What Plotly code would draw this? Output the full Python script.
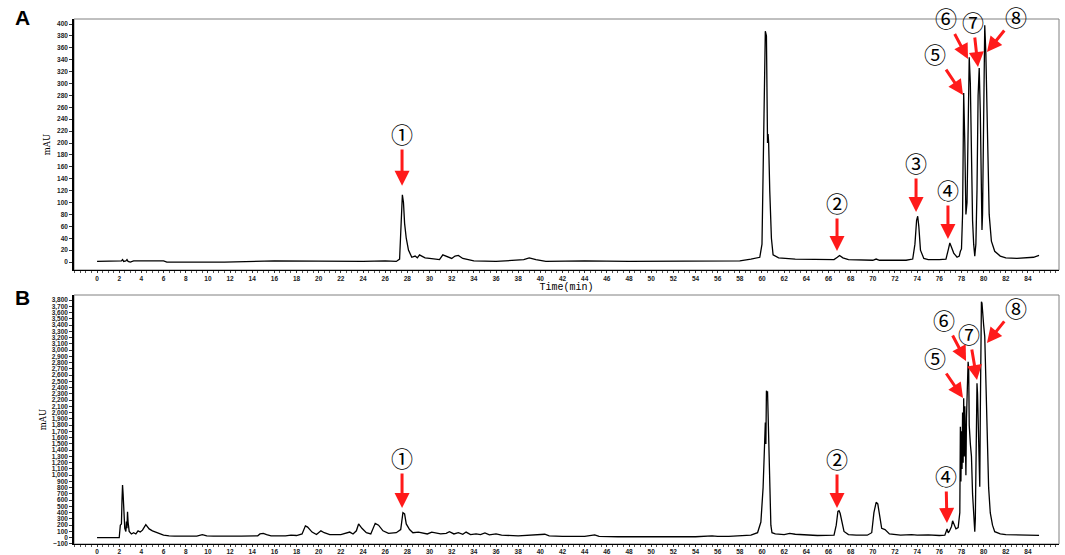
import plotly.graph_objects as go

# ---------------- Data ----------------
time_A = [0, 2.0, 2.2, 2.3, 2.4, 2.6, 2.7, 2.8, 3.0, 3.3, 6.0, 6.3, 11.5, 16.0, 20, 24, 26, 27.0,
          27.3, 27.45, 27.55, 27.65, 27.75, 27.9, 28.1, 28.4, 28.7, 28.9, 29.1, 29.3, 29.6, 30.0,
          30.5, 30.9, 31.2, 31.5, 32.0, 32.3, 32.6, 33.0, 33.4, 34.0, 36, 37.5, 38.5, 39.0, 39.6,
          40.5, 44, 48, 52, 56, 58.0, 59.0, 59.8, 60.0, 60.1, 60.2, 60.3, 60.4, 60.45, 60.5, 60.55,
          60.6, 60.7, 60.85, 61.0, 61.5, 63, 65, 66.5, 66.8, 67.0, 67.3, 67.8, 70, 70.3, 70.6, 73,
          73.6, 73.8, 73.95, 74.05, 74.15, 74.3, 74.6, 75, 76, 76.6, 76.8, 76.95, 77.1, 77.3, 77.6,
          77.8, 77.9, 78.0, 78.1, 78.2, 78.3, 78.4, 78.5, 78.6, 78.7, 78.8, 78.9, 79.0, 79.1, 79.2,
          79.3, 79.4, 79.5, 79.6, 79.7, 79.8, 79.85, 79.9, 80.0, 80.1, 80.2, 80.3, 80.4, 80.5, 80.7,
          81.0, 81.5, 82, 83, 84, 84.5, 85]
mau_A = [1, 1, 2, 4, 1, 2, 4, 1, 0, 2, 2, 0, 0, 2, 1, 1, 2, 1,
         5, 60, 113, 100, 65, 40, 20, 8, 10, 7, 12, 10, 7, 6,
         5, 4, 12, 10, 6, 10, 11, 6, 4, 2, 1, 3, 4, 7, 4,
         1, 2, 1, 1, 1, 2, 5, 8, 30, 150, 300, 388, 380, 260, 200, 215,
         200, 120, 40, 12, 7, 5, 4, 4, 8, 11, 7, 4, 3, 5, 3, 3,
         5, 30, 70, 77, 60, 20, 6, 4, 4, 5, 20, 32, 25, 15, 8,
         10, 18, 22, 80, 284, 200, 80, 100, 250, 344, 300, 150, 70, 30, 10,
         30, 120, 280, 326, 250, 80, 54, 80, 300, 398, 350, 250, 150, 80, 35,
         18, 10, 7, 6, 7, 8, 11]

time_B = [0, 2.0, 2.1, 2.2, 2.25, 2.3, 2.35, 2.4, 2.45, 2.5, 2.6, 2.65, 2.7, 2.75, 2.8, 2.9, 3.1,
          3.3, 3.5, 3.7, 3.9, 4.1, 4.4, 4.7, 5.0, 5.3, 5.6, 6.0, 6.5, 7.0, 9.0, 9.5, 9.9, 10.5, 13,
          14.5, 14.7, 15.0, 15.3, 15.7, 17, 17.5, 18.0, 18.5, 18.8, 19.0, 19.4, 19.8, 20.2, 20.5, 21,
          22, 22.8, 23.1, 23.4, 23.6, 23.9, 24.3, 24.7, 25.1, 25.4, 25.8, 26.3, 27.0, 27.4, 27.6,
          27.75, 27.9, 28.2, 28.5, 29, 29.4, 29.8, 30.2, 30.6, 31, 31.5, 31.8, 32.2, 32.6, 33.0, 33.3,
          33.7, 34.2, 34.6, 35, 35.4, 36, 36.5, 38, 40.4, 40.8, 42, 44, 44.9, 45.3, 47, 50, 54, 55.5,
          56, 57, 58, 59, 59.6, 59.9, 60.1, 60.2, 60.3, 60.35, 60.4, 60.45, 60.5, 60.55, 60.6, 60.7,
          60.8, 60.9, 61.2, 62.0, 62.5, 63, 64, 65, 66.5, 66.7, 66.85, 66.95, 67.05, 67.2, 67.4, 67.8,
          68.5, 69.5, 69.9, 70.1, 70.3, 70.45, 70.6, 70.8, 71.1, 71.5, 72.5, 73.5, 74, 75, 76, 76.5,
          76.7, 76.8, 76.9, 77.1, 77.2, 77.3, 77.5, 77.7, 77.85, 77.9, 77.95, 78.0, 78.05, 78.1,
          78.15, 78.2, 78.25, 78.3, 78.35, 78.4, 78.45, 78.5, 78.55, 78.6, 78.65, 78.7, 78.8, 78.9,
          79.0, 79.1, 79.2, 79.25, 79.3, 79.35, 79.4, 79.45, 79.5, 79.6, 79.65, 79.7, 79.75, 79.8,
          79.85, 79.9, 80.0, 80.1, 80.2, 80.3, 80.45, 80.6, 80.8, 81.0, 81.5, 82, 83, 84, 85]
mau_B = [0, 0, 200, 220, 600, 842, 700, 500, 250, 150, 100, 260, 150, 415, 250, 100, 60,
         80, 60, 110, 90, 120, 210, 140, 110, 90, 60, 40, 30, 25, 25, 50, 30, 25, 25,
         30, 60, 70, 50, 30, 30, 40, 35, 60, 190, 170, 90, 50, 110, 80, 50,
         50, 90, 60, 110, 220, 150, 80, 60, 230, 200, 110, 70, 80, 130, 400,
         380, 220, 130, 80, 90, 70, 60, 90, 80, 60, 70, 95, 60, 80, 55, 90,
         50, 60, 50, 75, 45, 60, 40, 30, 55, 30, 20, 20, 45, 20, 15, 15, 15, 30,
         20, 20, 25, 40, 80, 250, 800, 1350, 1840, 1500, 2350, 2300, 2340, 2000, 1400, 800,
         200, 80, 60, 50, 70, 55, 40, 35, 40, 200, 420, 432, 390, 250, 100, 50,
         40, 40, 80, 400, 566, 540, 380, 150, 130, 60, 40, 50, 40, 45, 35, 40,
         140, 80, 100, 180, 270, 220, 140, 160, 400, 1775, 900, 1700, 1100, 2000,
         1200, 2229, 1300, 2100, 1100, 1000, 1900, 2300, 2600, 2814, 2700, 1800, 1500, 1300,
         700, 300, 96, 300, 1500, 2300, 2468, 2300, 1800, 900, 815, 2000, 3500, 3773,
         3750, 3600, 3400, 3214, 2400, 1615, 800, 395, 200, 96, 60, 48, 45, 42, 38]

x_ticks = list(range(0, 85, 2))
peak_labels = ["①", "②", "③", "④", "⑤", "⑥", "⑦", "⑧"]
# arrow head (time, mAU) and label position (time, mAU) for panel A
headA_t = [27.52, 66.77, 73.90, 76.78, 78.14, 78.59, 79.49, 80.30]
headA_v = [128, 18.5, 84, 38.7, 280.7, 341, 327.7, 353]
textA_t = [27.52, 66.77, 73.90, 76.78, 75.61, 76.60, 79.04, 82.90]
textA_v = [216.8, 100.8, 168, 122.7, 351, 411, 405, 413]
# panel B (no peak 3)
labelsB = ["①", "②", "④", "⑤", "⑥", "⑦", "⑧"]
headB_t = [27.52, 66.77, 76.69, 78.14, 78.41, 79.40, 80.30]
headB_v = [475, 475, 235, 2233, 2825, 2521, 3113]
textB_t = [27.52, 66.77, 76.60, 75.61, 76.42, 78.68, 82.90]
textB_v = [1290, 1274, 1002, 2889, 3497, 3273, 3688]

# ---------------- Figure ----------------
W, H = 1065, 555


def px_x(p):
    return p / W


def px_y(p):
    return 1 - p / H


fig = go.Figure()
fig.add_trace(go.Scatter(x=time_A, y=mau_A, mode="lines", line=dict(color="black", width=1.3),
                         xaxis="x", yaxis="y", showlegend=False, hoverinfo="skip"))
fig.add_trace(go.Scatter(x=time_B, y=mau_B, mode="lines", line=dict(color="black", width=1.3),
                         xaxis="x2", yaxis="y2", showlegend=False, hoverinfo="skip"))

tickfont = dict(family="Liberation Sans", size=6.5, color="#222222", weight="bold")
xdomain = [px_x(74), px_x(1059)]
common_x = dict(domain=xdomain, range=[-2.08, 86.8], tickvals=x_ticks, showgrid=False,
                zeroline=False, showline=True, linecolor="black", linewidth=1,
                ticks="outside", ticklen=2, tickcolor="#333", tickfont=tickfont, automargin=False,
                minor=dict(dtick=0.5, tick0=0, ticks="outside", ticklen=2, tickcolor="#555"))
common_y = dict(showgrid=False, zeroline=False, showline=True, linecolor="black", automargin=False,
                linewidth=1.5, ticks="outside", ticklen=3, tickcolor="#333", tickfont=tickfont)

fig.update_layout(
    width=W, height=H, margin=dict(l=0, r=0, t=0, b=0, autoexpand=False),
    paper_bgcolor="white", plot_bgcolor="white", showlegend=False,
    xaxis=dict(**common_x, anchor="y",
               title=dict(text="Time(min)", font=dict(family="Liberation Mono", size=10, color="black"),
                          standoff=1)),
    yaxis=dict(**common_y, domain=[px_y(270), px_y(19)], range=[-13.4, 408.4], dtick=20,
               tick0=0, anchor="x",
               title=dict(text="mAU", font=dict(family="DejaVu Serif", size=8.5, color="black"),
                          standoff=5)),
    xaxis2=dict(**common_x, anchor="y2", ticklabelstandoff=-1),
    yaxis2=dict(**common_y, domain=[px_y(544), px_y(295)], range=[-100.7, 3880], dtick=100,
                tick0=0, tickformat=",d", anchor="x2",
                title=dict(text="mAU", font=dict(family="DejaVu Serif", size=8.5, color="black"),
                           standoff=4)),
)

# gray frame (top/right)
for xr, yr in (("x domain", "y domain"), ("x2 domain", "y2 domain")):
    fig.add_shape(type="rect", xref=xr, yref=yr, x0=0, x1=1, y0=0, y1=1,
                  line=dict(color="#808080", width=1), layer="below")

circ_font = dict(family="Noto Sans CJK SC", size=22, color="black")


def add_peaks(labels, ht, hv, tt, tv, xr, yr):
    for lab, a, b, c, d in zip(labels, ht, hv, tt, tv):
        fig.add_annotation(x=a, y=b, xref=xr, yref=yr, ax=c, ay=d, axref=xr, ayref=yr,
                           text=lab, font=circ_font, showarrow=True, arrowhead=2,
                           arrowsize=1.0, arrowwidth=3, arrowcolor="#ff1a1a", standoff=0,
                           borderpad=0)


add_peaks(peak_labels, headA_t, headA_v, textA_t, textA_v, "x", "y")
add_peaks(labelsB, headB_t, headB_v, textB_t, textB_v, "x2", "y2")

# panel letters
for letter, yy in (("A", 17), ("B", 297)):
    fig.add_annotation(x=px_x(22), y=px_y(yy), xref="paper", yref="paper", text=letter,
                       showarrow=False,
                       font=dict(family="Liberation Sans", size=21, color="black", weight="bold"),
                       xanchor="center", yanchor="middle")

# remove the browser's default page margin so the figure fills the window exactly
fig.write_html("out.html", config={"displayModeBar": False},
               post_script="document.body.style.margin='0';document.body.style.overflow='hidden';")
